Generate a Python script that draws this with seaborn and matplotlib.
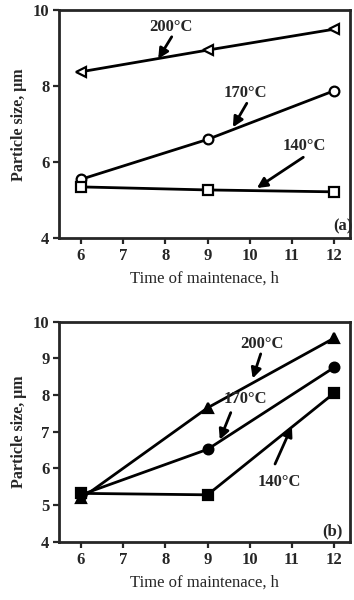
import pandas as pd
import matplotlib
matplotlib.use("Agg")
import matplotlib.pyplot as plt
import seaborn as sns

hours = [6, 9, 12]
temps = ["200°C", "170°C", "140°C"]

# panel (a)
a_200 = [8.38, 8.95, 9.50]
a_170 = [5.55, 6.60, 7.88]
a_140 = [5.35, 5.27, 5.22]

# panel (b)
b_200 = [5.18, 7.65, 9.55]
b_170 = [5.28, 6.52, 8.75]
b_140 = [5.32, 5.28, 8.05]

sns.set_style("ticks")
plt.rcParams['font.family'] = ['Liberation Serif', 'DejaVu Serif']
plt.rcParams['axes.linewidth'] = 2.0

fig = plt.figure(figsize=(3.54, 6.0), dpi=100)
ax1 = fig.add_axes([0.167, 0.603, 0.822, 0.380])
ax2 = fig.add_axes([0.167, 0.097, 0.822, 0.367])

def draw(ax, series, markers, filled, yticks, notes, tag, tagpos):
    for vals, m in zip(series, markers):
        df = pd.DataFrame({'h': hours, 'v': vals})
        sns.lineplot(data=df, x='h', y='v', ax=ax, color='black', lw=2.0,
                     marker=m, markersize=7, markeredgewidth=1.6,
                     markerfacecolor='black' if filled else 'white',
                     markeredgecolor='black')
    for label, (tx, ty), (hx, hy), (ax0, ay0) in notes:
        ax.text(tx, ty, label, ha='center', va='center',
                fontsize=12, fontweight='bold')
        ax.annotate("", xy=(hx, hy), xytext=(ax0, ay0),
                    arrowprops=dict(arrowstyle='-|>', color='black', lw=2.0,
                                    mutation_scale=15, shrinkA=0, shrinkB=0))
    ax.text(tagpos[0], tagpos[1], tag, ha='center', va='center',
            fontsize=12, fontweight='bold')
    ax.set_xlim(5.48, 12.38)
    ax.set_ylim(4, 10)
    ax.set_xticks(range(6, 13))
    ax.set_yticks(yticks)
    ax.tick_params(width=1.6, length=4, labelsize=12, pad=3)
    for t in ax.get_xticklabels() + ax.get_yticklabels():
        t.set_fontweight('bold')
    ax.set_xlabel("Time of maintenace, h", fontsize=12, labelpad=5)
    ax.set_ylabel("Particle size, μm", fontsize=11.5, fontweight='bold', labelpad=4)
    for s in ax.spines.values():
        s.set_visible(True)
        s.set_linewidth(2.0)

draw(ax1, [a_200, a_170, a_140], ['<', 'o', 's'], False, [4, 6, 8, 10],
     [(temps[0], (8.12, 9.55), (7.83, 8.72), (8.15, 9.30)),
      (temps[1], (9.9, 7.82), (9.6, 6.92), (9.93, 7.55)),
      (temps[2], (11.3, 6.42), (10.17, 5.32), (11.27, 6.13))],
     "(a)", (12.22, 4.3))

draw(ax2, [b_200, b_170, b_140], ['^', 'o', 's'], True, [4, 5, 6, 7, 8, 9, 10],
     [(temps[0], (10.3, 9.4), (10.07, 8.45), (10.26, 9.12)),
      (temps[1], (9.9, 7.88), (9.29, 6.78), (9.55, 7.52)),
      (temps[2], (10.7, 5.62), (11.0, 7.15), (10.6, 6.12))],
     "(b)", (11.97, 4.28))

fig.savefig("out.png", dpi=100)
